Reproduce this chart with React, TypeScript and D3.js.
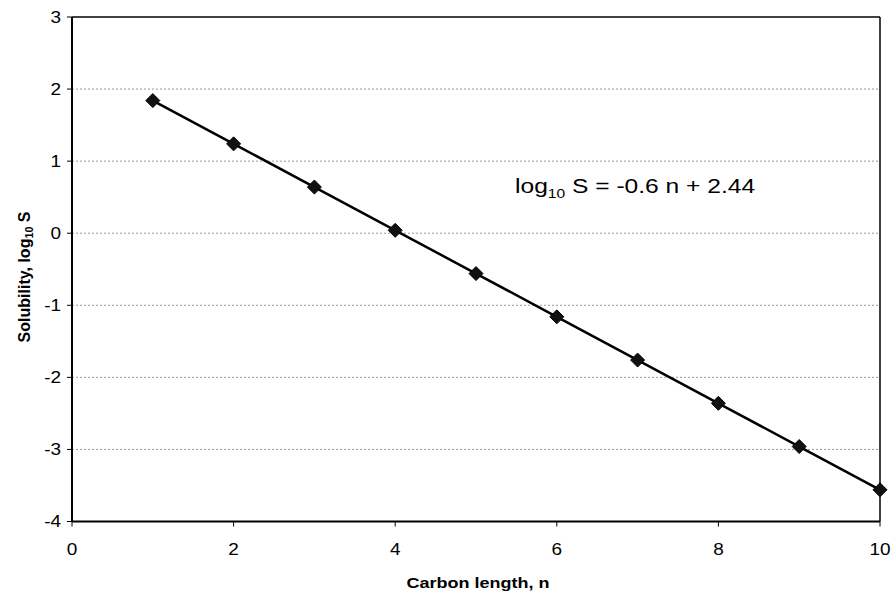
import React from "react";
import * as d3 from "d3";

const carbonLength = [1, 2, 3, 4, 5, 6, 7, 8, 9, 10];
const logSolubility = [1.84, 1.24, 0.64, 0.04, -0.56, -1.16, -1.76, -2.36, -2.96, -3.56];
const xTicks = [0, 2, 4, 6, 8, 10];
const yTicks = [-4, -3, -2, -1, 0, 1, 2, 3];

export default function App() {
  const W = 894, H = 594;
  const left = 72, right = 880, top = 17, bottom = 521.5;
  const x = d3.scaleLinear().domain([0, 10]).range([left, right]);
  const y = d3.scaleLinear().domain([-4, 3]).range([bottom, top]);
  const pts = carbonLength.map((n, i) => [n, logSolubility[i]] as [number, number]);
  const line = d3.line<[number, number]>().x(d => x(d[0])).y(d => y(d[1]));
  const font = "Arial, 'Liberation Sans', sans-serif";
  const ds = 7;
  const sx = 1.15;
  return (
    <svg width={W} height={H} style={{ position: "absolute", left: 0, top: 0, background: "#fff" }} fontFamily={font}>
      <rect width={W} height={H} fill="#fff" />
      {yTicks.filter(t => t > -4 && t < 3).map(t => (
        <line key={"g" + t} x1={left} x2={right} y1={y(t)} y2={y(t)} stroke="#999" strokeWidth={1} strokeDasharray="2,2" />
      ))}
      <line x1={left} x2={right} y1={top} y2={top} stroke="#000" strokeWidth={1.5} />
      <line x1={right} x2={right} y1={top} y2={bottom} stroke="#000" strokeWidth={1.5} />
      <line x1={left} x2={left} y1={top} y2={bottom} stroke="#000" strokeWidth={2} />
      <line x1={left} x2={right} y1={bottom} y2={bottom} stroke="#000" strokeWidth={2} />
      {yTicks.map(t => (
        <g key={"y" + t}>
          <line x1={left - 5} x2={left} y1={y(t)} y2={y(t)} stroke="#000" strokeWidth={1} />
          <text transform={`translate(${left - 11},${y(t)}) scale(${sx},1)`} dy="0.35em" textAnchor="end" fontSize={16.5}>{t}</text>
        </g>
      ))}
      {xTicks.map(t => (
        <g key={"x" + t}>
          <line x1={x(t)} x2={x(t)} y1={bottom} y2={bottom + 5} stroke="#000" strokeWidth={1} />
          <text transform={`translate(${x(t)},555) scale(${sx},1)`} textAnchor="middle" fontSize={16.5}>{t}</text>
        </g>
      ))}
      <path d={line(pts) || ""} fill="none" stroke="#000" strokeWidth={2.5} />
      {pts.map((p, i) => (
        <path key={"m" + i}
          d={`M${x(p[0])},${y(p[1]) - ds}L${x(p[0]) + ds},${y(p[1])}L${x(p[0])},${y(p[1]) + ds}L${x(p[0]) - ds},${y(p[1])}Z`}
          fill="#111" stroke="#000" strokeWidth={1} />
      ))}
      <text transform={`translate(515,193) scale(1.2,1)`} fontSize={20.5}>
        log<tspan fontSize={13} dy={5}>10</tspan><tspan dy={-5}> S = -0.6 n + 2.44</tspan>
      </text>
      <text transform={`translate(478,588) scale(1.2,1)`} textAnchor="middle" fontSize={15} fontWeight="bold">Carbon length, n</text>
      <text transform={`translate(30,277) rotate(-90) scale(1.07,1.15)`} textAnchor="middle" fontSize={15} fontWeight="bold">
        Solubility, log<tspan fontSize={10} dy={3}>10</tspan><tspan dy={-3}> S</tspan>
      </text>
    </svg>
  );
}
